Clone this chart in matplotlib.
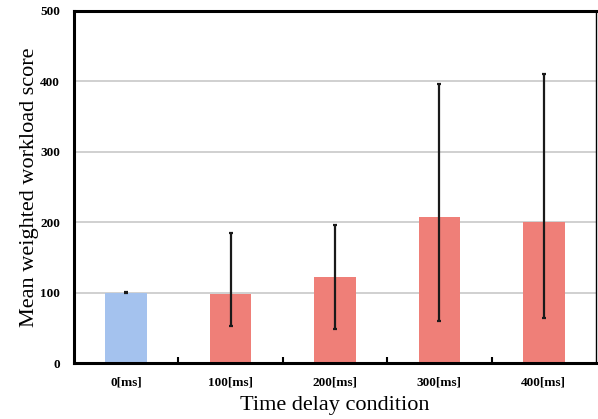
import matplotlib
matplotlib.use("Agg")
import matplotlib.pyplot as plt
import numpy as np

categories = ["0[ms]", "100[ms]", "200[ms]", "300[ms]", "400[ms]"]
means = [100, 98, 122, 207, 200]
err_low = [99, 52, 48, 60, 64]
err_high = [101, 185, 196, 396, 411]
colors = ["#a4c2ee", "#ef7f78", "#ef7f78", "#ef7f78", "#ef7f78"]
yticks = [0, 100, 200, 300, 400, 500]

plt.rcParams['font.family'] = ['Liberation Serif', 'DejaVu Serif']

fig = plt.figure(figsize=(5.98, 4.19), dpi=100)
ax = fig.add_axes([74/598, 1-363/419, (596-74)/598, (363-11)/419])

x = np.arange(len(categories))
yerr = [np.array(means) - np.array(err_low), np.array(err_high) - np.array(means)]
ax.bar(x, means, width=0.4, color=colors, zorder=2)
ax.errorbar(x, means, yerr=yerr, fmt='none', ecolor='#1a1a1a', elinewidth=1.6,
            capsize=1.5, capthick=1.6, zorder=3)

ax.set_xlim(-0.5, len(categories) - 0.5)
ax.set_ylim(0, 500)
ax.set_yticks(yticks)
ax.set_yticklabels([str(v) for v in yticks], fontweight='bold', fontsize=9.5)
ax.set_xticks(x)
ax.set_xticklabels(categories, fontweight='bold', fontsize=9.5)
ax.tick_params(axis='x', length=0, pad=10)
ax.tick_params(axis='y', length=0, pad=10)
ax.set_xticks(np.arange(0.5, len(categories) - 1, 1), minor=True)
ax.tick_params(axis='x', which='minor', direction='in', length=4, width=1.5)

ax.yaxis.grid(True, color='#c8c8c8', linewidth=1.2, zorder=0)
ax.set_axisbelow(True)

for s in ['left', 'bottom', 'top']:
    ax.spines[s].set_linewidth(2.2)
    ax.spines[s].set_color('black')
ax.spines['right'].set_linewidth(1.0)

ax.set_xlabel("Time delay condition", fontsize=16, labelpad=5)
ax.set_ylabel("Mean weighted workload score", fontsize=16, labelpad=1)

fig.savefig("out.png", dpi=100)
